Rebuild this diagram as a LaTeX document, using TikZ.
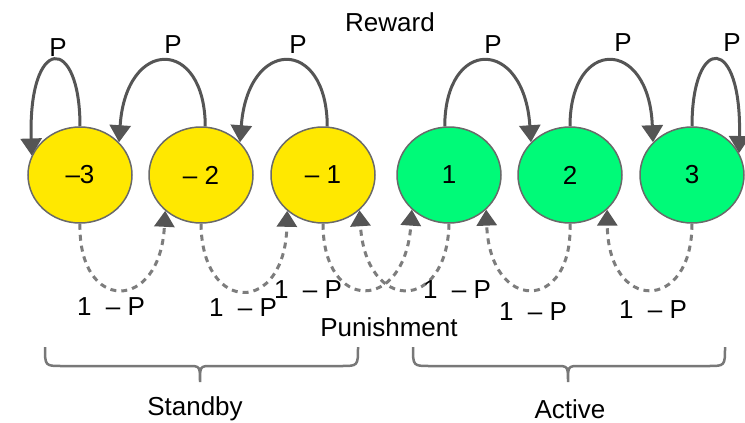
\documentclass[tikz,border=0pt]{standalone}
\usepackage{fontspec}
\setmainfont{Liberation Sans}
\usetikzlibrary{arrows.meta,shapes.geometric}
\definecolor{yel}{RGB}{255,232,0}
\definecolor{grn}{RGB}{0,250,120}
\definecolor{edgec}{RGB}{105,105,105}
\definecolor{arrc}{RGB}{85,85,85}
\definecolor{dshc}{RGB}{125,125,125}
\definecolor{brc}{RGB}{120,120,120}
\begin{document}
\begin{tikzpicture}[x=1pt,y=-1pt,
  state/.style={ellipse,draw=edgec,line width=1.5pt,minimum width=104pt,minimum height=96pt,inner sep=0pt,font=\fontsize{26}{30}\selectfont},
  stby/.style={state,fill=yel},
  actv/.style={state,fill=grn},
  lbl/.style={inner sep=0pt,font=\fontsize{26}{30}\selectfont},
  solidarr/.style={draw=arrc,line width=3pt,-{Triangle[length=17pt,width=21pt,color=arrc]}},
  dasharr/.style={draw=dshc,line width=3pt,dash pattern=on 6pt off 5pt,-{Triangle[length=16pt,width=20pt,color=arrc]}},
  bracec/.style={draw=brc,line width=2.5pt}
]
\useasboundingbox (0,0) rectangle (745,423);

\node[stby] (m3) at (80,175) {–3};
\node[stby] (m2) at (201,175) {– 2};
\node[stby] (m1) at (323,175) {– 1};
\node[actv] (p1) at (449,175) {1};
\node[actv] (p2) at (570,175) {2};
\node[actv] (p3) at (692,175) {3};

% top solid arcs
\draw[solidarr] (m3.north) .. controls (80,34) and (28,34) .. (m3.158);
\draw[solidarr] (m2.85) .. controls (205,37) and (126,37) .. (m3.40);
\draw[solidarr] (m1.85) .. controls (327,37) and (248,37) .. (m2.40);
\draw[solidarr] (p1.95) .. controls (445,37) and (524,37) .. (p2.140);
\draw[solidarr] (p2.north) .. controls (570,37) and (649,37) .. (p3.140);
\draw[solidarr] (p3.north) .. controls (692,34) and (742,34) .. (p3.25);

% bottom dashed arcs
\draw[dasharr] (m3.south) .. controls (78,313) and (160,313) .. (m2.225);
\draw[dasharr] (m2.south) .. controls (202,315) and (285,315) .. (m1.225);
\draw[dasharr] (m1.south) .. controls (323,313) and (405,313) .. (p1.223);
\draw[dasharr] (p1.south) .. controls (447,313) and (366,313) .. (m1.316);
\draw[dasharr] (p2.south) .. controls (573,313) and (490,313) .. (p1.317);
\draw[dasharr] (p3.south) .. controls (692,313) and (608,313) .. (p2.317);

% labels
\node[lbl] (t1) at (58,48) {P};
\node[lbl] (t2) at (173,45) {P};
\node[lbl] (t3) at (298,45) {P};
\node[lbl] (t4) at (493,45) {P};
\node[lbl] (t5) at (623,43) {P};
\node[lbl] (t6) at (732,43) {P};
\node[lbl] (rw) at (390,22) {Reward};

\node[lbl] (b1) at (111,307) {1\ \ – P};
\node[lbl] (b2) at (243,308) {1\ \ – P};
\node[lbl] (b3) at (308,290) {1\ \ – P};
\node[lbl] (b4) at (457,290) {1\ \ – P};
\node[lbl] (b5) at (533,312) {1\ \ – P};
\node[lbl] (b6) at (653,310) {1\ \ – P};
\node[lbl] (pn) at (389,327) {Punishment};

% braces
\draw[bracec] (45,347) .. controls (45,366) and (45,366) .. (62,366) -- (188,366)
  .. controls (200,366) and (200,366) .. (200,382)
  .. controls (200,366) and (200,366) .. (212,366) -- (341,366)
  .. controls (358,366) and (358,366) .. (358,347);
\draw[bracec] (413,347) .. controls (413,366) and (413,366) .. (430,366) -- (556,366)
  .. controls (568,366) and (568,366) .. (568,382)
  .. controls (568,366) and (568,366) .. (580,366) -- (708,366)
  .. controls (725,366) and (725,366) .. (725,347);

\node[lbl] (sb) at (195,409) {Standby};
\node[lbl] (ac) at (570,409) {Active};
\end{tikzpicture}
\end{document}
